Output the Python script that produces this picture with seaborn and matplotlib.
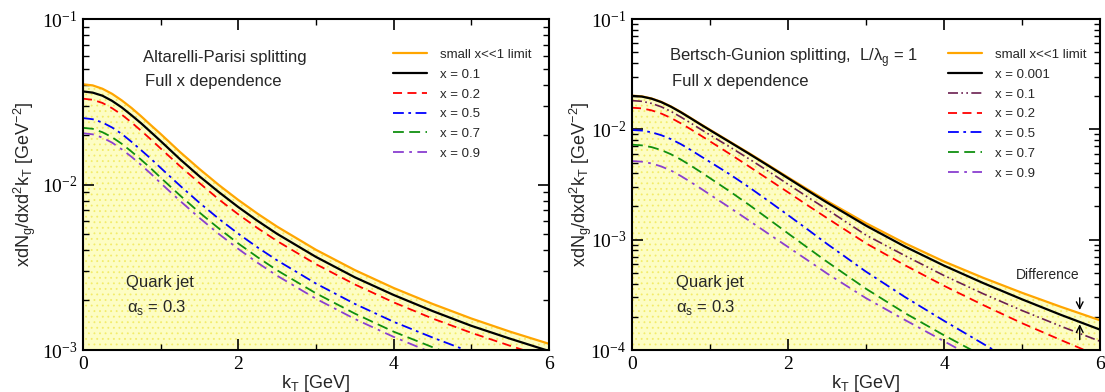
import matplotlib
matplotlib.use('Agg')
import matplotlib.pyplot as plt
import numpy as np
import seaborn as sns
from matplotlib.ticker import FuncFormatter, MultipleLocator, LogLocator, NullFormatter

# kT grid [GeV]
kt = [0, 0.125, 0.25, 0.375, 0.5, 0.625, 0.75, 0.875, 1, 1.25, 1.5, 1.75, 2, 2.25, 2.5,
      3, 3.5, 4, 4.5, 5, 5.5, 6]

# Altarelli-Parisi splitting (left panel)
ap_small = [0.0403, 0.0397, 0.0379, 0.0353, 0.0322, 0.0290, 0.0258, 0.0228, 0.0202, 0.0157, 0.0124,
            0.00992, 0.00806, 0.00665, 0.00556, 0.00403, 0.00304, 0.00237, 0.00190, 0.00155,
            0.00129, 0.00109]
ap_x01 = [0.0365, 0.0359, 0.0344, 0.0320, 0.0292, 0.0262, 0.0234, 0.0207, 0.0183, 0.0142, 0.0112,
          0.00899, 0.00730, 0.00602, 0.00503, 0.00365, 0.00275, 0.00215, 0.00172, 0.00140,
          0.00117, 0.000986]
ap_x02 = [0.0330, 0.0325, 0.0311, 0.0289, 0.0264, 0.0237, 0.0211, 0.0187, 0.0165, 0.0129, 0.0102,
          0.00812, 0.00660, 0.00544, 0.00455, 0.00330, 0.00249, 0.00194, 0.00155, 0.00127,
          0.00106, 0.000892]
ap_x05 = [0.0252, 0.0248, 0.0237, 0.0221, 0.0202, 0.0181, 0.0161, 0.0143, 0.0126, 0.00983, 0.00775,
          0.00620, 0.00504, 0.00416, 0.00348, 0.00252, 0.00190, 0.00148, 0.00119, 0.000969,
          0.000806, 0.000681]
ap_x07 = [0.0220, 0.0217, 0.0207, 0.0193, 0.0176, 0.0158, 0.0141, 0.0125, 0.0110, 0.00858, 0.00677,
          0.00542, 0.00440, 0.00363, 0.00303, 0.00220, 0.00166, 0.00129, 0.00104, 0.000846,
          0.000704, 0.000595]
ap_x09 = [0.0204, 0.0201, 0.0192, 0.0179, 0.0163, 0.0147, 0.0131, 0.0116, 0.0102, 0.00796, 0.00628,
          0.00502, 0.00408, 0.00336, 0.00281, 0.00204, 0.00154, 0.00120, 0.000960, 0.000785,
          0.000653, 0.000551]

# Bertsch-Gunion splitting, L/lambda_g = 1 (right panel)
bg_small = [0.02018, 0.01991, 0.01905, 0.01774, 0.01611, 0.01439, 0.01271, 0.01119, 0.00991,
            0.00776, 0.00608, 0.00473, 0.00367, 0.00286, 0.00224, 0.00141, 0.000927, 0.000634,
            0.000452, 0.000330, 0.000246, 0.000186]
bg_x0001 = [0.02009, 0.01982, 0.01897, 0.01766, 0.01603, 0.01429, 0.01262, 0.01112, 0.00982,
            0.00769, 0.00601, 0.00467, 0.00361, 0.00279, 0.00217, 0.00134, 0.000865, 0.000582,
            0.000405, 0.000288, 0.000208, 0.000153]
bg_x01 = [0.01820, 0.01795, 0.01718, 0.01600, 0.01452, 0.01294, 0.01143, 0.01007, 0.00889,
          0.00695, 0.00540, 0.00416, 0.00318, 0.00244, 0.00188, 0.00110, 0.000716, 0.000473,
          0.000324, 0.000228, 0.000164, 0.000120]
bg_x02 = [0.01570, 0.01549, 0.01486, 0.01390, 0.01268, 0.01135, 0.01005, 0.00885, 0.00778,
          0.00601, 0.00461, 0.00352, 0.00269, 0.00205, 0.00157, 0.000927, 0.000586, 0.000382,
          0.000256, 0.000175, 0.000123, 0.0000871]
bg_x05 = [0.00986, 0.00975, 0.00940, 0.00885, 0.00815, 0.00735, 0.00652, 0.00574, 0.00506,
          0.00393, 0.00299, 0.00224, 0.00167, 0.00124, 0.000916, 0.000513, 0.000302, 0.000184,
          0.000114, 0.0000708, 0.0000447, 0.0000282]
bg_x07 = [0.00726, 0.00716, 0.00690, 0.00649, 0.00594, 0.00533, 0.00471, 0.00413, 0.00361,
          0.00275, 0.00207, 0.00154, 0.00114, 0.000847, 0.000631, 0.000359, 0.000216, 0.000136,
          0.0000881, 0.0000575, 0.0000380, 0.0000251]
bg_x09 = [0.00516, 0.00509, 0.00491, 0.00461, 0.00423, 0.00378, 0.00334, 0.00293, 0.00256,
          0.00196, 0.00149, 0.00113, 0.000859, 0.000652, 0.000494, 0.000295, 0.000187, 0.000120,
          0.0000773, 0.0000501, 0.0000324, 0.0000209]

sns.set_theme(style='ticks')
plt.rcParams['font.family'] = ['Liberation Sans', 'DejaVu Sans']
plt.rcParams['hatch.linewidth'] = 0.6

ORANGE = '#FFA500'
styles = {
    'small': dict(color=ORANGE, linestyle='-', linewidth=1.6),
    '0.001': dict(color='black', linestyle='-', linewidth=1.6),
    '0.1bg': dict(color='#6B1F50', linestyle=(0, (6, 2, 1, 2, 1, 2)), linewidth=1.2),
    '0.1': dict(color='black', linestyle='-', linewidth=1.6),
    '0.2': dict(color='#FF0000', linestyle=(0, (5, 3)), linewidth=1.3),
    '0.5': dict(color='#0000FF', linestyle=(0, (6, 2.5, 1.5, 2.5)), linewidth=1.3),
    '0.7': dict(color='#109010', linestyle=(0, (6, 3)), linewidth=1.3),
    '0.9': dict(color='#8A3FD0', linestyle=(0, (6, 3, 1.5, 3)), linewidth=1.3),
}

fig = plt.figure(figsize=(11.05, 3.92), dpi=100)
ax1 = fig.add_axes([83 / 1105, 42 / 392, 466 / 1105, 331 / 392])
ax2 = fig.add_axes([632 / 1105, 42 / 392, 468 / 1105, 331 / 392])

left_series = [('small x<<1 limit', ap_small, 'small'), ('x = 0.1', ap_x01, '0.1'),
               ('x = 0.2', ap_x02, '0.2'), ('x = 0.5', ap_x05, '0.5'),
               ('x = 0.7', ap_x07, '0.7'), ('x = 0.9', ap_x09, '0.9')]
right_series = [('small x<<1 limit', bg_small, 'small'), ('x = 0.001', bg_x0001, '0.001'),
                ('x = 0.1', bg_x01, '0.1bg'), ('x = 0.2', bg_x02, '0.2'),
                ('x = 0.5', bg_x05, '0.5'), ('x = 0.7', bg_x07, '0.7'),
                ('x = 0.9', bg_x09, '0.9')]


def decade(v, pos):
    return r'$\mathregular{10^{%d}}$' % int(round(np.log10(v)))


def panel(ax, series, ymin, title, leg_x):
    # yellow dotted area under the small-x limit
    ax.fill_between(kt, series[0][1], ymin * 1e-2, facecolor='#FDFDC4',
                    hatch='...', edgecolor='#F3EC6A', linewidth=0, zorder=0)
    for label, vals, key in series:
        sns.lineplot(x=kt, y=vals, ax=ax, label=label, **styles[key])
    ax.set_yscale('log')
    ax.set_xlim(0, 6)
    ax.set_ylim(ymin, 1e-1)
    ax.xaxis.set_major_locator(MultipleLocator(2))
    ax.xaxis.set_minor_locator(MultipleLocator(1))
    ax.yaxis.set_major_locator(LogLocator(base=10))
    ax.yaxis.set_minor_locator(LogLocator(base=10, subs=range(2, 10)))
    ax.yaxis.set_major_formatter(FuncFormatter(decade))
    ax.yaxis.set_minor_formatter(NullFormatter())
    ax.tick_params(which='both', direction='in', top=True, right=True, colors='black',
                   labelsize=14, labelfontfamily='Liberation Serif')
    ax.tick_params(which='major', length=8, width=1.2, pad=4)
    ax.tick_params(which='minor', length=4, width=1.0)
    for s in ax.spines.values():
        s.set_linewidth(1.5)
        s.set_color('black')
    ax.set_xlabel(r'k$_\mathregular{T}$ [GeV]', fontsize=13)
    ax.set_ylabel(r'xdN$_\mathregular{g}$/dxd$^\mathregular{2}$k$_\mathregular{T}$ [GeV$^\mathregular{-2}$]',
                  fontsize=13)
    ax.xaxis.set_label_coords(0.5, -0.07)
    ax.text(title[0], 0.885, title[1], transform=ax.transAxes, fontsize=12, va='center')
    ax.text(title[0] + 0.005, 0.81, 'Full x dependence', transform=ax.transAxes, fontsize=12,
            va='center')
    ax.text(0.093, 0.205, 'Quark jet', transform=ax.transAxes, fontsize=12, va='center')
    ax.text(0.095, 0.128, r'α$_\mathregular{s}$ = 0.3', transform=ax.transAxes, fontsize=12,
            va='center')
    ax.legend(loc='upper left', bbox_to_anchor=(leg_x, 0.91), frameon=False, fontsize=9.5,
              handlelength=2.6, handletextpad=1.0, labelspacing=0.57, borderpad=0,
              borderaxespad=0)


panel(ax1, left_series, 1e-3, (0.128, 'Altarelli-Parisi splitting'), 0.665)
panel(ax2, right_series, 1e-4, (0.08, r'Bertsch-Gunion splitting,  L/λ$_\mathregular{g}$ = 1'), 0.675)
ax1.yaxis.set_label_coords(-0.097, 0.5)
ax2.yaxis.set_label_coords(-0.082, 0.5)

# "Difference" marker between the small-x limit and x = 0.001
kd = 5.74
top = np.interp(kd, kt, bg_small)
bot = np.interp(kd, kt, bg_x0001)
ax2.text(0.889, 0.227, 'Difference', transform=ax2.transAxes, fontsize=10, ha='center', va='center')
ax2.annotate('', xy=(kd, top), xytext=(kd, top * 1.45),
             arrowprops=dict(arrowstyle='->', color='black', lw=1.0))
ax2.annotate('', xy=(kd, bot), xytext=(kd, bot / 1.55),
             arrowprops=dict(arrowstyle='->', color='black', lw=1.0))

fig.savefig('out.png', dpi=100)
